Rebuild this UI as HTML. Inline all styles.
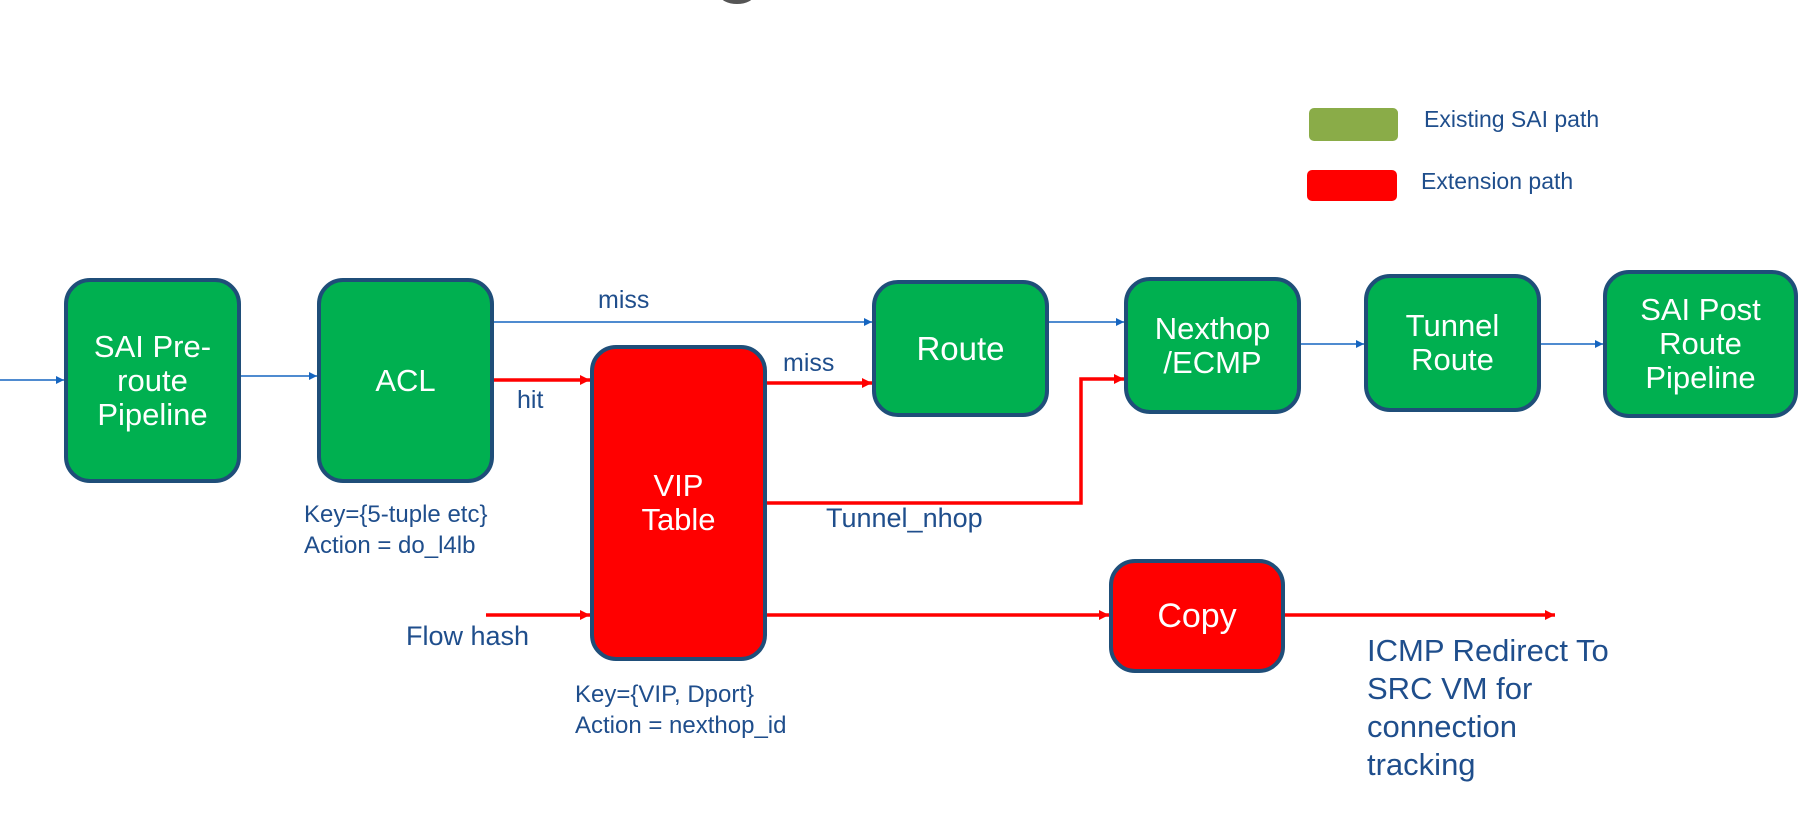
<!DOCTYPE html>
<html><head><meta charset="utf-8"><style>
body{margin:0;width:1815px;height:820px;background:#fff;overflow:hidden;position:relative;font-family:"Liberation Sans",sans-serif}
.b{position:absolute;box-sizing:border-box;border:4px solid #1f4e79;border-radius:26px;display:flex;align-items:center;justify-content:center;text-align:center;color:#fff;font-size:31px;line-height:34px}
.g{background:#00b050}.r{background:#ff0000}
.t{position:absolute;color:#1f4e8c;font-size:24px;white-space:nowrap}
</style></head><body>
<div style="position:absolute;left:720px;top:-14px;width:34px;height:18px;border-radius:50%;background:#555"></div>
<div style="position:absolute;left:1309px;top:108px;width:89px;height:33px;background:#8aac48;border-radius:5px"></div>
<div style="position:absolute;left:1307px;top:170px;width:90px;height:31px;background:#ff0000;border-radius:5px"></div>
<div class="t" style="left:1424px;top:106px;font-size:23px">Existing SAI path</div>
<div class="t" style="left:1421px;top:168px;font-size:23px">Extension path</div>
<svg width="1815" height="820" style="position:absolute;left:0;top:0">
<defs>
<marker id="ab" markerWidth="8" markerHeight="8" refX="8" refY="4" orient="auto" markerUnits="userSpaceOnUse"><path d="M0,0L8,4L0,8z" fill="#1565c0"/></marker>
<marker id="ar" markerWidth="10" markerHeight="10" refX="10" refY="5" orient="auto" markerUnits="userSpaceOnUse"><path d="M0,0L10,5L0,10z" fill="#ff0000"/></marker>
</defs>
<g stroke="#1565c0" stroke-width="1.5" fill="none" marker-end="url(#ab)">
<line x1="0" y1="380" x2="64" y2="380"/>
<line x1="241" y1="376" x2="317" y2="376"/>
<line x1="494" y1="322" x2="872" y2="322"/>
<line x1="1049" y1="322" x2="1124" y2="322"/>
<line x1="1301" y1="344" x2="1364" y2="344"/>
<line x1="1541" y1="344" x2="1603" y2="344"/>
</g>
<g stroke="#ff0000" stroke-width="3.5" fill="none" marker-end="url(#ar)">
<line x1="494" y1="380" x2="590" y2="380"/>
<line x1="767" y1="383" x2="872" y2="383"/>
<polyline points="767,503 1081,503 1081,379 1124,379"/>
<line x1="486" y1="615" x2="590" y2="615"/>
<line x1="767" y1="615" x2="1109" y2="615"/>
<line x1="1285" y1="615" x2="1555" y2="615"/>
</g>
</svg>
<div class="b g" style="left:64px;top:278px;width:177px;height:205px">SAI Pre-<br>route<br>Pipeline</div>
<div class="b g" style="left:317px;top:278px;width:177px;height:205px">ACL</div>
<div class="b r" style="left:590px;top:345px;width:177px;height:316px">VIP<br>Table</div>
<div class="b g" style="left:872px;top:280px;width:177px;height:137px;font-size:33px">Route</div>
<div class="b g" style="left:1124px;top:277px;width:177px;height:137px">Nexthop<br>/ECMP</div>
<div class="b g" style="left:1364px;top:274px;width:177px;height:138px">Tunnel<br>Route</div>
<div class="b g" style="left:1603px;top:270px;width:195px;height:148px">SAI Post<br>Route<br>Pipeline</div>
<div class="b r" style="left:1109px;top:559px;width:176px;height:114px;font-size:34px">Copy</div>
<div class="t" style="left:598px;top:286px;font-size:25px">miss</div>
<div class="t" style="left:783px;top:349px;font-size:25px">miss</div>
<div class="t" style="left:517px;top:386px;font-size:25px">hit</div>
<div class="t" style="left:826px;top:503px;font-size:27px">Tunnel_nhop</div>
<div class="t" style="left:406px;top:621px;font-size:27px">Flow hash</div>
<div class="t" style="left:304px;top:499px;line-height:31px">Key={5-tuple etc}<br>Action = do_l4lb</div>
<div class="t" style="left:575px;top:679px;line-height:31px">Key={VIP, Dport}<br>Action = nexthop_id</div>
<div class="t" style="left:1367px;top:632px;font-size:31px;line-height:38px">ICMP Redirect To<br>SRC VM for<br>connection<br>tracking</div>
</body></html>
